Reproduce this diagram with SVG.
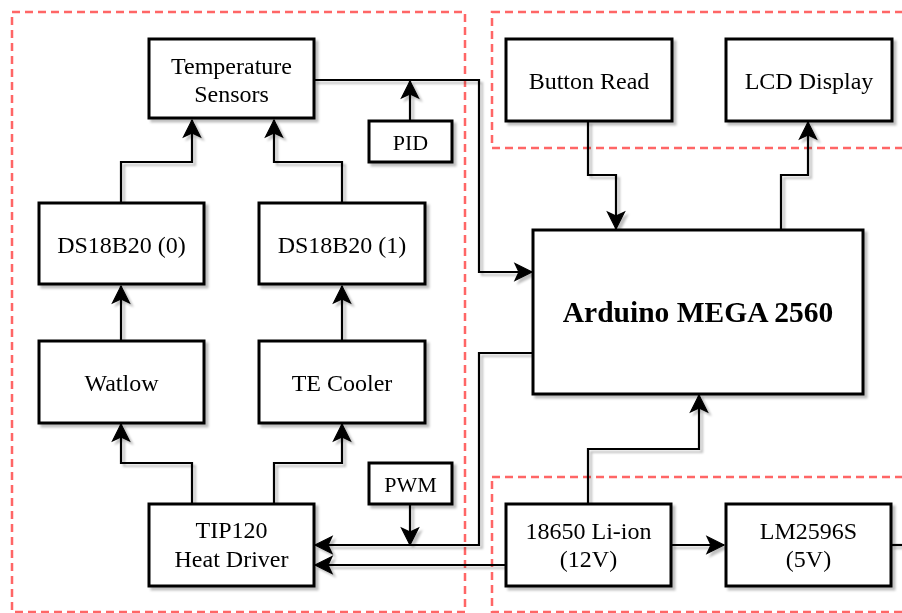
<svg xmlns="http://www.w3.org/2000/svg" width="902" height="613" viewBox="0 0 902 613">
<style>
.region{fill:none;stroke:#ff6666;stroke-width:2.5;stroke-dasharray:8 5}
.box{fill:#fff;stroke:#000;stroke-width:3}
.t{font-family:"Liberation Serif","Times New Roman",serif;font-size:24px;fill:#000;text-anchor:middle}
.s{font-size:22px}
.b{font-size:29.5px;font-weight:bold}
.c{fill:none;stroke:#000;stroke-width:2.2;marker-end:url(#arr)}
.n{fill:none;stroke:#000;stroke-width:2.2}
</style>
<defs>
<filter id="sh" x="-10%" y="-10%" width="130%" height="130%">
<feDropShadow dx="3" dy="3" stdDeviation="0.8" flood-color="#000" flood-opacity="0.25"/>
</filter>
<marker id="arr" markerUnits="userSpaceOnUse" markerWidth="22" markerHeight="22" viewBox="0 0 22 22" refX="19" refY="11" orient="auto">
<path d="M2,2.5 L19,11 L2,19.5 L6,11 Z" fill="#000" stroke="#000" stroke-width="1.2" stroke-linejoin="miter"/>
</marker>
</defs>
<rect width="902" height="613" fill="#fff"/>
<g id="regions">
<rect class="region" x="12" y="12" width="453" height="600"/>
<rect class="region" x="492" y="12" width="430" height="136"/>
<rect class="region" x="492" y="477" width="430" height="135"/>
</g>
<g id="connectors" filter="url(#sh)">
<path class="c" d="M314,80 H479 V272 H532"/>
<path class="c" d="M410,121 V81"/>
<path class="c" d="M121,203 V162 H192 V120"/>
<path class="c" d="M342,203 V162 H274 V120"/>
<path class="c" d="M121,341 V286"/>
<path class="c" d="M342,341 V286"/>
<path class="c" d="M192,504 V463 H121 V424"/>
<path class="c" d="M274,504 V463 H342 V424"/>
<path class="c" d="M533,353 H479 V545 H315"/>
<path class="c" d="M410,504 V545"/>
<path class="c" d="M506,565 H315"/>
<path class="c" d="M588,504 V449 H699 V395"/>
<path class="c" d="M588,121 V175 H616 V229"/>
<path class="c" d="M781,230 V175 H808 V122"/>
<path class="c" d="M671,545 H724"/>
<path class="n" d="M891,545 H905"/>
</g>
<g id="temp" filter="url(#sh)"><rect class="box" x="149" y="39" width="165" height="79"/><text class="t" x="231.5" y="74">Temperature</text><text class="t" x="231.5" y="102">Sensors</text></g>
<g id="pid" filter="url(#sh)"><rect class="box" x="369" y="121" width="83" height="41"/><text class="t s" x="410.5" y="149.5">PID</text></g>
<g id="ds0" filter="url(#sh)"><rect class="box" x="39" y="203" width="165" height="81"/><text class="t" x="121.5" y="253">DS18B20 (0)</text></g>
<g id="ds1" filter="url(#sh)"><rect class="box" x="259" y="203" width="166" height="81"/><text class="t" x="342" y="253">DS18B20 (1)</text></g>
<g id="watlow" filter="url(#sh)"><rect class="box" x="39" y="341" width="165" height="82"/><text class="t" x="121.5" y="391">Watlow</text></g>
<g id="tecooler" filter="url(#sh)"><rect class="box" x="259" y="341" width="166" height="82"/><text class="t" x="342" y="391">TE Cooler</text></g>
<g id="tip120" filter="url(#sh)"><rect class="box" x="149" y="504" width="165" height="82"/><text class="t" x="231.5" y="538">TIP120</text><text class="t" x="231.5" y="567">Heat Driver</text></g>
<g id="pwm" filter="url(#sh)"><rect class="box" x="369" y="463" width="83" height="41"/><text class="t s" x="410.5" y="491.5">PWM</text></g>
<g id="button" filter="url(#sh)"><rect class="box" x="506" y="39" width="166" height="82"/><text class="t" x="589" y="89">Button Read</text></g>
<g id="lcd" filter="url(#sh)"><rect class="box" x="726" y="39" width="166" height="82"/><text class="t" x="809" y="89">LCD Display</text></g>
<g id="arduino" filter="url(#sh)"><rect class="box" x="533" y="230" width="330" height="164"/><text class="t b" x="698" y="322">Arduino MEGA 2560</text></g>
<g id="battery" filter="url(#sh)"><rect class="box" x="506" y="504" width="165" height="82"/><text class="t" x="588.5" y="539">18650 Li-ion</text><text class="t" x="588.5" y="567">(12V)</text></g>
<g id="lm2596" filter="url(#sh)"><rect class="box" x="726" y="504" width="165" height="82"/><text class="t" x="808.5" y="539">LM2596S</text><text class="t" x="808.5" y="567">(5V)</text></g>
</svg>
